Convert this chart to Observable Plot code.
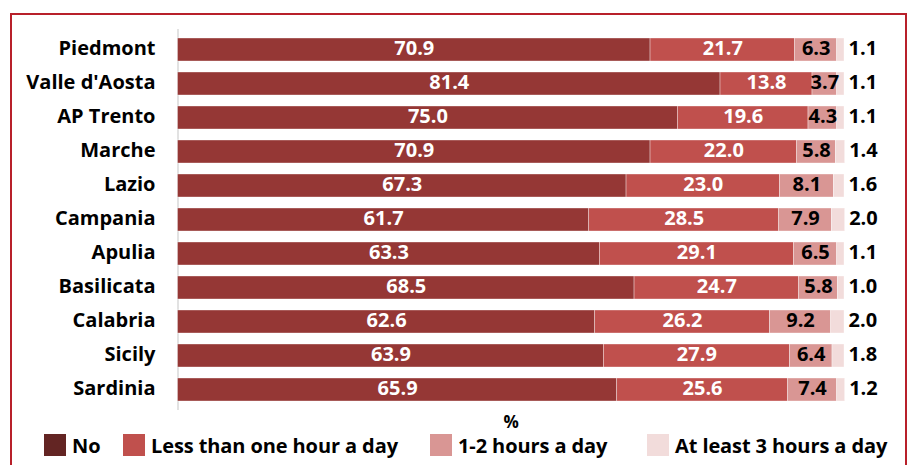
<!DOCTYPE html>
<html>
<head>
<meta charset="utf-8">
<script src="https://cdn.jsdelivr.net/npm/d3@7"></script>
<script src="https://cdn.jsdelivr.net/npm/@observablehq/plot@0.6"></script>
<style>
  html, body { margin: 0; padding: 0; background: #fff; }
  body { width: 909px; height: 465px; position: relative; overflow: hidden; font-family: "Open Sans", sans-serif; font-weight: bold; }
  #frame { position: absolute; left: 10px; top: 13px; width: 897px; height: 470px; border: 2px solid #b8202a; box-sizing: border-box; }
  #chart { position: absolute; left: 0; top: 0; }
  #legend { position: absolute; top: 434px; left: 0; width: 909px; height: 24px; }
  .item { position: absolute; top: 0; display: flex; align-items: center; font-size: 20px; color: #000; height: 22px; letter-spacing: -0.1px; }
  .sw { width: 22px; height: 22px; margin-right: 6px; }
</style>
</head>
<body>
<div id="frame"></div>
<div id="chart"></div>
<div id="legend"></div>
<script>
// Daily time use by region (%), one row per region
const regions = ["Piedmont", "Valle d'Aosta", "AP Trento", "Marche", "Lazio", "Campania", "Apulia", "Basilicata", "Calabria", "Sicily", "Sardinia"];
const no        = [70.9, 81.4, 75.0, 70.9, 67.3, 61.7, 63.3, 68.5, 62.6, 63.9, 65.9];
const lessOne   = [21.7, 13.8, 19.6, 22.0, 23.0, 28.5, 29.1, 24.7, 26.2, 27.9, 25.6];
const oneTwo    = [6.3, 3.7, 4.3, 5.8, 8.1, 7.9, 6.5, 5.8, 9.2, 6.4, 7.4];
const threePlus = [1.1, 1.1, 1.1, 1.4, 1.6, 2.0, 1.1, 1.0, 2.0, 1.8, 1.2];

const categories = ["No", "Less than one hour a day", "1-2 hours a day", "At least 3 hours a day"];
const barColors = ["#953735", "#c0504d", "#d99694", "#f2dcdb"];
const legendColors = ["#632523", "#c0504d", "#d99694", "#f2dcdb"];
const legendLeft = [44, 123, 430, 647];

const series = [no, lessOne, oneTwo, threePlus];
const data = [];
regions.forEach((region, i) => {
  categories.forEach((category, k) => {
    data.push({region, category, k, value: series[k][i]});
  });
});

const stackOpts = {x: "value", y: "region", z: "category", order: categories};
const fmt = v => v.toFixed(1);

const chart = Plot.plot({
  width: 909,
  height: 434,
  marginLeft: 177.5,
  marginRight: 65,
  marginTop: 29,
  marginBottom: 24,
  style: {fontFamily: "'Open Sans', sans-serif", fontWeight: "bold", background: "transparent", overflow: "visible"},
  x: {domain: [0, 100], axis: null},
  y: {domain: regions, paddingInner: 0.32, paddingOuter: 0.16, label: null},
  color: {domain: categories, range: barColors},
  marks: [
    Plot.ruleX([0], {stroke: "#d9d9d9", strokeWidth: 1.5}),
    Plot.barX(data, Plot.stackX({...stackOpts, fill: "category", stroke: "#fff", strokeWidth: 0.6, strokeOpacity: 0.6})),
    // values on the two darker segments
    Plot.text(data, Plot.stackX({...stackOpts, text: d => d.k < 2 ? fmt(d.value) : null, fill: "#fff", fontSize: 20, dy: -1})),
    // values on the light segment
    Plot.text(data, Plot.stackX({...stackOpts, text: d => d.k === 2 ? fmt(d.value) : null, fill: "#000", fontSize: 20, dy: -1})),
    // last share, written past the end of each bar
    Plot.text(data, Plot.stackX2({...stackOpts, text: d => d.k === 3 ? fmt(d.value) : null, fill: "#000", fontSize: 20, textAnchor: "start", dx: 4, dy: -1})),
    Plot.axisY({tickSize: 0, tickPadding: 22.5, fontSize: 20, fill: "#000", label: null, dy: -1}),
    Plot.text(["%"], {frameAnchor: "bottom", lineAnchor: "middle", dy: 12, fontSize: 17, fill: "#000"})
  ]
});
document.getElementById("chart").append(chart);

const legend = document.getElementById("legend");
categories.forEach((c, k) => {
  const item = document.createElement("div");
  item.className = "item";
  item.style.left = legendLeft[k] + "px";
  const sw = document.createElement("span");
  sw.className = "sw";
  sw.style.background = legendColors[k];
  const label = document.createElement("span");
  label.textContent = c;
  item.append(sw, label);
  legend.append(item);
});
</script>
</body>
</html>
